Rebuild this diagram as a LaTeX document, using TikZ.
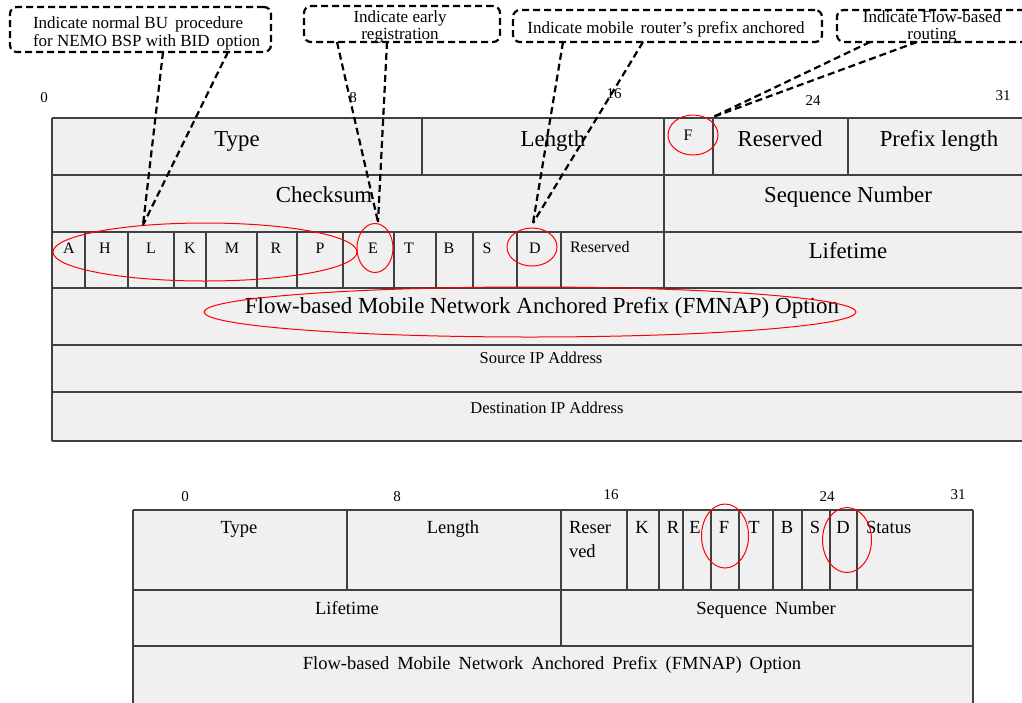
\documentclass[tikz,border=0pt]{standalone}
\usepackage{fontspec}
\setmainfont{Liberation Serif}
\usetikzlibrary{shapes.geometric}
\definecolor{cellfill}{HTML}{F0F0F0}
\definecolor{gridline}{HTML}{404040}
\newcommand{\widesp}{\spaceskip 8pt\relax}
\begin{document}
\begin{tikzpicture}[x=1pt,y=-1pt,
  lbl/.style={inner sep=0pt, outer sep=0pt, anchor=base},
  big/.style={lbl, font=\fontsize{22.8}{26}\selectfont},
  flag/.style={lbl, font=\fontsize{16}{19}\selectfont},
  fm/.style={lbl, font=\fontsize{23}{26}\selectfont},
  addr/.style={lbl, font=\fontsize{16.5}{19}\selectfont},
  bit/.style={lbl, font=\fontsize{15}{18}\selectfont},
  mid/.style={lbl, font={\fontsize{18.5}{21}\selectfont\widesp}},
  note/.style={lbl, font=\fontsize{17}{20}\selectfont},
  grid/.style={draw=gridline, line width=1.3pt},
  redring/.style={ellipse, draw=red, line width=1pt, inner sep=0pt, outer sep=0pt},
  callout/.style={draw=black, line width=2.2pt, dash pattern=on 7pt off 4pt, rounded corners=7pt, inner sep=0pt, outer sep=0pt},
  conn/.style={draw=black, line width=2.2pt, dash pattern=on 7pt off 4pt}
]
\useasboundingbox (0,0) rectangle (1022,702);
\clip (0,0) rectangle (1022,702);

% ---------- top table ----------
\fill[cellfill] (52,118) rectangle (1030,441);
\foreach \y in {118,175,232,288,345,392,441} \draw[grid] (52,\y) -- (1030,\y);
\draw[grid] (52,118) -- (52,441);
\foreach \x in {422,664,713,848} \draw[grid] (\x,118) -- (\x,175);
\draw[grid] (664,175) -- (664,232);
\foreach \x in {85,128,174,206,257,297,343,394,436,473,517,561,664} \draw[grid] (\x,232) -- (\x,288);

\node[bit] (b0) at (44,102) {0};
\node[bit] (b8) at (353,102) {8};
\node[bit] (b16) at (614,98) {16};
\node[bit] (b24) at (813,105) {24};
\node[bit] (b31) at (1003,100) {31};

\node[big] (tType) at (237,146) {Type};
\node[big] (tLen) at (553,146) {Length};
\node[flag] (tF) at (688,140) {F};
\node[big] (tRes) at (780,146) {Reserved};
\node[big] (tPL) at (939,146) {Prefix length};
\node[big] (tChk) at (324,202) {Checksum};
\node[big] (tSeq) at (848,202) {Sequence Number};
\node[big] (tLife) at (848,258) {Lifetime};

\node[flag] (fA) at (69,253) {A};
\node[flag] (fH) at (105,253) {H};
\node[flag] (fL) at (151,253) {L};
\node[flag] (fK) at (190,253) {K};
\node[flag] (fM) at (232,253) {M};
\node[flag] (fR) at (276,253) {R};
\node[flag] (fP) at (320,253) {P};
\node[flag] (fE) at (373,253) {E};
\node[flag] (fT) at (409,253) {T};
\node[flag] (fB) at (449,253) {B};
\node[flag] (fS) at (487,253) {S};
\node[flag] (fD) at (535,253) {D};
\node[flag, anchor=base west] (fRes) at (570,252) {Reserved};

\node[fm] (tFM) at (542,313) {Flow-based Mobile Network Anchored Prefix (FMNAP) Option};
\node[addr] (tSrc) at (541,363) {Source IP Address};
\node[addr] (tDst) at (547,413) {Destination IP Address};

% red rings (top)
\node[redring, minimum width=304pt, minimum height=58pt] (eAP) at (205,252) {};
\node[redring, minimum width=36pt, minimum height=49pt] (eE) at (375,248) {};
\node[redring, minimum width=50pt, minimum height=38pt] (eD) at (532,247) {};
\node[redring, minimum width=50pt, minimum height=40pt] (eF) at (693,135) {};
\node[redring, minimum width=652pt, minimum height=50pt] (eFM) at (530,312) {};

% ---------- callouts ----------
\node[callout, minimum width=261pt, minimum height=45pt] (c1) at (140.5,29.5) {};
\node[note, anchor=base west] (c1a) at (33,28) {Indicate normal BU\, procedure};
\node[note, anchor=base west] (c1b) at (33,46) {for NEMO BSP with BID\, option};

\node[callout, minimum width=196pt, minimum height=36pt] (c2) at (402,24) {};
\node[note] (c2a) at (400,22) {Indicate early};
\node[note] (c2b) at (400,39) {registration};

\node[callout, minimum width=309pt, minimum height=32pt] (c3) at (667.5,26) {};
\node[note] (c3a) at (666,33) {Indicate mobile\, router's prefix anchored};

\node[callout, minimum width=205pt, minimum height=32pt] (c4) at (939.5,26) {};
\node[note] (c4a) at (932,22) {Indicate Flow-based};
\node[note] (c4b) at (932,39) {routing};

\coordinate (pL) at (143,225);
\coordinate (pE) at (378,222);
\coordinate (pD) at (533,223);
\coordinate (pF) at (713,117);

\draw[conn] ([xshift=22.5pt]c1.south) -- (pL);
\draw[conn] ([xshift=87.5pt]c1.south) -- (pL);
\draw[conn] ([xshift=-65pt]c2.south) -- (pE);
\draw[conn] ([xshift=-15pt]c2.south) -- (pE);
\draw[conn] ([xshift=-104.5pt]c3.south) -- (pD);
\draw[conn] ([xshift=-24.5pt]c3.south) -- (pD);
\draw[conn] ([xshift=-69.5pt]c4.south) -- (pF);
\draw[conn] ([xshift=-22.5pt]c4.south) -- (pF);

% ---------- bottom table ----------
\fill[cellfill] (133,510) rectangle (973,710);
\foreach \y in {510,590,646} \draw[grid] (133,\y) -- (973,\y);
\draw[grid] (133,510) -- (133,710);
\draw[grid] (973,510) -- (973,710);
\foreach \x in {347,561,627,659,683,711,739,773,802,830,857} \draw[grid] (\x,510) -- (\x,590);
\draw[grid] (561,590) -- (561,646);

\node[bit] (d0) at (185,501) {0};
\node[bit] (d8) at (397,501) {8};
\node[bit] (d16) at (611,499) {16};
\node[bit] (d24) at (827,501) {24};
\node[bit] (d31) at (958,499) {31};

\node[mid] (uType) at (239,533) {Type};
\node[mid] (uLen) at (453,533) {Length};
\node[mid, anchor=base west] (uRes1) at (569,533) {Reser};
\node[mid, anchor=base west] (uRes2) at (569,557) {ved};
\node[mid] (uK) at (642,533) {K};
\node[mid] (uR) at (673,533) {R};
\node[mid] (uE) at (695,533) {E};
\node[mid] (uF) at (724,533) {F};
\node[mid] (uT) at (754,533) {T};
\node[mid] (uB) at (787,533) {B};
\node[mid] (uS) at (815,533) {S};
\node[mid] (uD) at (843,533) {D};
\node[mid, anchor=base west] (uSt) at (866,533) {Status};
\node[mid] (uLife) at (347,614) {Lifetime};
\node[mid] (uSeq) at (766,614) {Sequence Number};
\node[mid] (uFM) at (552,669) {Flow-based Mobile Network Anchored Prefix (FMNAP) Option};

\node[redring, minimum width=47pt, minimum height=64pt] (gF) at (725,536) {};
\node[redring, minimum width=49pt, minimum height=65pt] (gD) at (847,540) {};
\end{tikzpicture}
\end{document}
